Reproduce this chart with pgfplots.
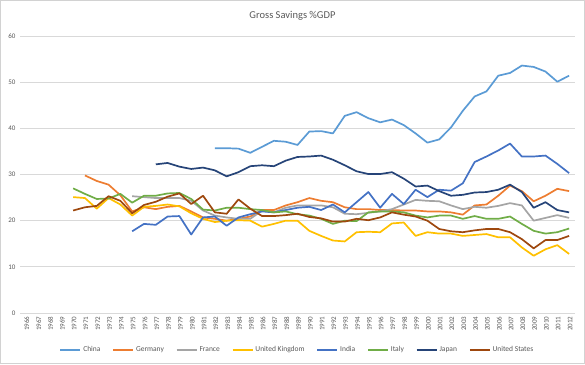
\documentclass[border=0pt]{standalone}
\usepackage{pgfplots}
\pgfplotsset{compat=1.18}
\usepackage{fontspec}
\setmainfont{Carlito}
\definecolor{cChina}{HTML}{5B9BD5}
\definecolor{cGer}{HTML}{ED7D31}
\definecolor{cFra}{HTML}{A5A5A5}
\definecolor{cUK}{HTML}{FFC000}
\definecolor{cInd}{HTML}{4472C4}
\definecolor{cIta}{HTML}{70AD47}
\definecolor{cJap}{HTML}{264478}
\definecolor{cUS}{HTML}{9E480E}
\definecolor{txt}{HTML}{595959}
\begin{document}
\begin{tikzpicture}
\draw[gray!35,line width=0.8pt] (0.4pt,0.4pt) rectangle (584.6pt,363.6pt);
\node[text=txt,font=\fontsize{10.5}{12}\selectfont] at (292.5pt,348pt) {Gross Savings \%GDP};
\begin{axis}[
  at={(20pt,51pt)}, anchor=south west,
  width=555pt, height=277pt, scale only axis,
  xmin=1965.5, xmax=2012.5, ymin=0, ymax=60,
  xtick={1966,...,2012}, ytick={0,10,...,60},
  /pgf/number format/1000 sep={},
  /pgf/number format/assume math mode=true,
  axis line style={draw=none},
  major tick length=0pt,
  ymajorgrids, grid style={gray!30,line width=0.7pt},
  tick label style={text=txt,font=\fontsize{7}{8}\selectfont},
  xticklabel style={rotate=90,anchor=east,yshift=-1pt},
  yticklabel style={xshift=-1pt},
  every axis plot/.append style={line width=1.7pt,no marks,line join=round},
  legend style={at={(0.5,0)},anchor=center,yshift=-37pt,draw=none,
    legend columns=8,font=\fontsize{7.5}{8.5}\selectfont,text=txt,
    /tikz/every even column/.append style={column sep=10pt}},
  legend image code/.code={\draw[#1,line width=1.6pt] (0pt,0pt) -- (20pt,0pt);},
]
\addplot[cChina] coordinates {(1982,35.7)(1983,35.7)(1984,35.6)(1985,34.7)(1986,36.0)(1987,37.3)(1988,37.1)(1989,36.4)(1990,39.3)(1991,39.4)(1992,38.9)(1993,42.7)(1994,43.5)(1995,42.2)(1996,41.3)(1997,41.9)(1998,40.7)(1999,38.9)(2000,36.9)(2001,37.6)(2002,40.2)(2003,43.8)(2004,46.9)(2005,48.0)(2006,51.4)(2007,52.0)(2008,53.6)(2009,53.3)(2010,52.3)(2011,50.1)(2012,51.4)};
\addlegendentry{China}
\addplot[cGer] coordinates {(1971,29.8)(1972,28.6)(1973,27.8)(1974,25.5)(1975,22.0)(1976,22.9)(1977,22.5)(1978,23.0)(1979,23.2)(1980,22.0)(1981,20.7)(1982,20.4)(1983,20.0)(1984,20.4)(1985,20.9)(1986,22.3)(1987,22.3)(1988,23.3)(1989,24.0)(1990,24.9)(1991,24.3)(1992,24.0)(1993,22.9)(1994,22.5)(1995,22.5)(1996,22.3)(1997,22.3)(1998,22.2)(1999,22.2)(2000,22.0)(2001,22.0)(2002,21.8)(2003,21.3)(2004,23.3)(2005,23.5)(2006,25.4)(2007,27.6)(2008,26.4)(2009,24.2)(2010,25.4)(2011,26.9)(2012,26.4)};
\addlegendentry{Germany}
\addplot[cFra] coordinates {(1975,25.3)(1976,25.1)(1977,24.9)(1978,24.9)(1979,24.9)(1980,24.3)(1981,22.2)(1982,21.1)(1983,20.7)(1984,20.4)(1985,20.4)(1986,22.2)(1987,21.8)(1988,22.8)(1989,23.3)(1990,23.3)(1991,23.3)(1992,22.9)(1993,21.5)(1994,21.4)(1995,21.7)(1996,22.0)(1997,22.5)(1998,23.5)(1999,24.5)(2000,24.3)(2001,24.2)(2002,23.3)(2003,22.5)(2004,23.0)(2005,22.8)(2006,23.2)(2007,23.8)(2008,23.3)(2009,20.0)(2010,20.6)(2011,21.2)(2012,20.6)};
\addlegendentry{France}
\addplot[cUK] coordinates {(1970,25.1)(1971,24.9)(1972,22.6)(1973,24.9)(1974,23.5)(1975,21.1)(1976,23.0)(1977,23.2)(1978,23.5)(1979,23.1)(1980,21.6)(1981,20.4)(1982,19.7)(1983,20.0)(1984,20.1)(1985,20.0)(1986,18.7)(1987,19.3)(1988,20.0)(1989,20.0)(1990,17.8)(1991,16.7)(1992,15.7)(1993,15.5)(1994,17.5)(1995,17.6)(1996,17.5)(1997,19.4)(1998,19.6)(1999,16.7)(2000,17.5)(2001,17.2)(2002,17.2)(2003,16.7)(2004,16.9)(2005,17.1)(2006,16.4)(2007,16.4)(2008,14.2)(2009,12.4)(2010,13.8)(2011,14.7)(2012,12.8)};
\addlegendentry{United Kingdom}
\addplot[cInd] coordinates {(1975,17.7)(1976,19.3)(1977,19.1)(1978,20.9)(1979,21.0)(1980,17.0)(1981,20.7)(1982,20.9)(1983,18.9)(1984,20.7)(1985,21.4)(1986,22.0)(1987,21.8)(1988,22.3)(1989,22.8)(1990,23.0)(1991,22.3)(1992,23.5)(1993,21.8)(1994,24.0)(1995,26.2)(1996,22.8)(1997,25.8)(1998,23.6)(1999,26.7)(2000,25.1)(2001,26.7)(2002,26.5)(2003,28.1)(2004,32.7)(2005,33.9)(2006,35.2)(2007,36.7)(2008,33.9)(2009,33.9)(2010,34.1)(2011,32.3)(2012,30.3)};
\addlegendentry{India}
\addplot[cIta] coordinates {(1970,27.0)(1971,25.8)(1972,24.7)(1973,24.8)(1974,25.8)(1975,23.9)(1976,25.4)(1977,25.4)(1978,25.9)(1979,26.0)(1980,24.7)(1981,22.4)(1982,22.2)(1983,22.8)(1984,22.8)(1985,22.5)(1986,22.3)(1987,21.8)(1988,22.0)(1989,21.4)(1990,21.1)(1991,20.4)(1992,19.3)(1993,20.0)(1994,19.9)(1995,21.8)(1996,22.0)(1997,22.0)(1998,21.8)(1999,21.1)(2000,20.7)(2001,21.1)(2002,21.1)(2003,20.4)(2004,21.0)(2005,20.4)(2006,20.4)(2007,20.9)(2008,19.3)(2009,17.8)(2010,17.2)(2011,17.5)(2012,18.3)};
\addlegendentry{Italy}
\addplot[cJap] coordinates {(1977,32.2)(1978,32.5)(1979,31.7)(1980,31.2)(1981,31.5)(1982,30.9)(1983,29.6)(1984,30.5)(1985,31.8)(1986,32.0)(1987,31.8)(1988,33.0)(1989,33.8)(1990,33.9)(1991,34.1)(1992,33.2)(1993,32.0)(1994,30.7)(1995,30.1)(1996,30.1)(1997,30.5)(1998,29.1)(1999,27.4)(2000,27.6)(2001,26.4)(2002,25.4)(2003,25.6)(2004,26.1)(2005,26.2)(2006,26.7)(2007,27.8)(2008,26.2)(2009,22.8)(2010,24.0)(2011,22.3)(2012,21.8)};
\addlegendentry{Japan}
\addplot[cUS] coordinates {(1970,22.2)(1971,22.9)(1972,23.2)(1973,25.3)(1974,24.3)(1975,21.6)(1976,23.4)(1977,24.1)(1978,25.2)(1979,25.9)(1980,23.6)(1981,25.4)(1982,21.8)(1983,21.5)(1984,24.6)(1985,22.6)(1986,21.0)(1987,21.0)(1988,21.2)(1989,21.5)(1990,20.8)(1991,20.5)(1992,19.8)(1993,19.8)(1994,20.4)(1995,20.1)(1996,20.7)(1997,21.8)(1998,21.3)(1999,20.9)(2000,20.0)(2001,18.2)(2002,17.7)(2003,17.5)(2004,17.9)(2005,18.2)(2006,18.2)(2007,17.5)(2008,16.0)(2009,14.0)(2010,15.8)(2011,15.8)(2012,16.7)};
\addlegendentry{United States}
\end{axis}
\end{tikzpicture}
\end{document}
